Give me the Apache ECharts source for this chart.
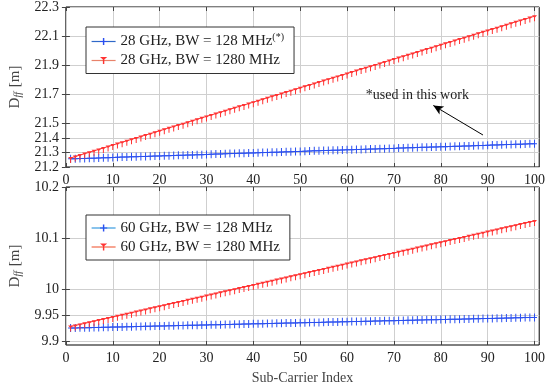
<!DOCTYPE html>
<html>
<head>
<meta charset="utf-8">
<script src="https://cdn.jsdelivr.net/npm/echarts@6/dist/echarts.min.js"></script>
<style>html,body{margin:0;padding:0;background:#fff}#c{width:548px;height:392px}</style>
</head>
<body>
<div id="c"></div>
<script>
// ---- data ----
const subIdx = [1,2,3,4,5,6,7,8,9,10,11,12,13,14,15,16,17,18,19,20,21,22,23,24,25,26,27,28,29,30,31,32,33,34,35,36,37,38,39,40,41,42,43,44,45,46,47,48,49,50,51,52,53,54,55,56,57,58,59,60,61,62,63,64,65,66,67,68,69,70,71,72,73,74,75,76,77,78,79,80,81,82,83,84,85,86,87,88,89,90,91,92,93,94,95,96,97,98,99,100];

const d28bw128 = [21.256,21.257,21.258,21.259,21.260,21.261,21.262,21.263,21.264,21.265,21.267,21.268,21.269,21.270,21.271,21.272,21.273,21.274,21.275,21.276,21.277,21.278,21.279,21.280,21.281,21.282,21.283,21.284,21.285,21.286,21.288,21.289,21.290,21.291,21.292,21.293,21.294,21.295,21.296,21.297,21.298,21.299,21.300,21.301,21.302,21.303,21.304,21.305,21.306,21.307,21.309,21.310,21.311,21.312,21.313,21.314,21.315,21.316,21.317,21.318,21.319,21.320,21.321,21.322,21.323,21.324,21.325,21.326,21.327,21.328,21.330,21.331,21.332,21.333,21.334,21.335,21.336,21.337,21.338,21.339,21.340,21.341,21.342,21.343,21.344,21.345,21.346,21.347,21.348,21.349,21.351,21.352,21.353,21.354,21.355,21.356,21.357,21.358,21.359,21.360];

const d28bw1280 = [21.262,21.272,21.282,21.292,21.301,21.311,21.321,21.331,21.341,21.351,21.361,21.370,21.380,21.390,21.400,21.410,21.420,21.429,21.439,21.449,21.459,21.469,21.479,21.489,21.498,21.508,21.518,21.528,21.538,21.548,21.558,21.567,21.577,21.587,21.597,21.607,21.617,21.626,21.636,21.646,21.656,21.666,21.676,21.686,21.695,21.705,21.715,21.725,21.735,21.745,21.755,21.764,21.774,21.784,21.794,21.804,21.814,21.823,21.833,21.843,21.853,21.863,21.873,21.883,21.892,21.902,21.912,21.922,21.932,21.942,21.952,21.961,21.971,21.981,21.991,22.001,22.011,22.020,22.030,22.040,22.050,22.060,22.070,22.080,22.089,22.099,22.109,22.119,22.129,22.139,22.149,22.158,22.168,22.178,22.188,22.198,22.208,22.217,22.227,22.237];

const d60bw128 = [9.9250,9.9252,9.9254,9.9256,9.9258,9.9261,9.9263,9.9265,9.9267,9.9269,9.9271,9.9273,9.9275,9.9277,9.9279,9.9282,9.9284,9.9286,9.9288,9.9290,9.9292,9.9294,9.9296,9.9298,9.9300,9.9303,9.9305,9.9307,9.9309,9.9311,9.9313,9.9315,9.9317,9.9319,9.9321,9.9324,9.9326,9.9328,9.9330,9.9332,9.9334,9.9336,9.9338,9.9340,9.9342,9.9345,9.9347,9.9349,9.9351,9.9353,9.9355,9.9357,9.9359,9.9361,9.9363,9.9366,9.9368,9.9370,9.9372,9.9374,9.9376,9.9378,9.9380,9.9382,9.9384,9.9387,9.9389,9.9391,9.9393,9.9395,9.9397,9.9399,9.9401,9.9403,9.9405,9.9408,9.9410,9.9412,9.9414,9.9416,9.9418,9.9420,9.9422,9.9424,9.9426,9.9429,9.9431,9.9433,9.9435,9.9437,9.9439,9.9441,9.9443,9.9445,9.9447,9.9450,9.9452,9.9454,9.9456,9.9458];

const d60bw1280 = [9.9280,9.9301,9.9322,9.9342,9.9363,9.9384,9.9405,9.9426,9.9446,9.9467,9.9488,9.9509,9.9530,9.9550,9.9571,9.9592,9.9613,9.9634,9.9654,9.9675,9.9696,9.9717,9.9738,9.9758,9.9779,9.9800,9.9821,9.9842,9.9862,9.9883,9.9904,9.9925,9.9946,9.9966,9.9987,10.0008,10.0029,10.0050,10.0070,10.0091,10.0112,10.0133,10.0154,10.0174,10.0195,10.0216,10.0237,10.0258,10.0278,10.0299,10.0320,10.0341,10.0362,10.0382,10.0403,10.0424,10.0445,10.0466,10.0486,10.0507,10.0528,10.0549,10.0570,10.0590,10.0611,10.0632,10.0653,10.0674,10.0694,10.0715,10.0736,10.0757,10.0778,10.0798,10.0819,10.0840,10.0861,10.0882,10.0902,10.0923,10.0944,10.0965,10.0986,10.1006,10.1027,10.1048,10.1069,10.1090,10.1110,10.1131,10.1152,10.1173,10.1194,10.1214,10.1235,10.1256,10.1277,10.1298,10.1318,10.1339];

const seriesNames = ['28 GHz, BW = 128 MHz(*)', '28 GHz, BW = 1280 MHz', '60 GHz, BW = 128 MHz', '60 GHz, BW = 1280 MHz'];
const xTicks = [0,10,20,30,40,50,60,70,80,90,100];
const topYTicks = [21.2,21.3,21.4,21.5,21.7,21.9,22.1,22.3];
const botYTicks = [9.9,9.95,10,10.1,10.2];
const xAxisTitle = 'Sub-Carrier Index';
const annotationText = '*used in this work';

// ---- chart ----
const FONT = 'Liberation Serif';
const plusPath = 'path://M2,0 H3 V3.5 H5 V4.5 H3 V8 H2 V4.5 H0 V3.5 H2 Z';
const triPath = 'path://M0,0 H6 L3.6,2.6 V7 H2.4 V2.6 Z';

function pairs(ys){ return subIdx.map((x,i)=>[x, ys[i]]); }

function xAx(grid, pos, show){
  return {
    type:'value', gridIndex:grid, position:pos, min:0, max:101,
    axisLine:{show:false},
    axisTick:{show:true, inside:true, length:4, customValues:xTicks, lineStyle:{color:'#444'}},
    axisLabel:{show:show, customValues:xTicks, margin:6, color:'#222', fontFamily:FONT, fontSize:14},
    splitLine:{show:pos==='bottom', lineStyle:{color:'#cfcfcf', width:1}}
  };
}
function yAx(grid, pos, min, max, ticks, withName){
  const o = {
    type:'value', gridIndex:grid, position:pos, min:min, max:max,
    axisLine:{show:false},
    axisTick:{show:true, inside:true, length:4, customValues:ticks, lineStyle:{color:'#444'}},
    axisLabel:{show:pos==='left', customValues:ticks, margin:7, color:'#222', fontFamily:FONT, fontSize:14},
    splitLine:{show:pos==='left', lineStyle:{color:'#cfcfcf', width:1}}
  };
  if (withName) {
    o.name = 'D{s|f\u200Cf} [m]';
    o.nameLocation = 'middle';
    o.nameGap = 42;
    o.nameTextStyle = {fontFamily:FONT, fontSize:15, color:'#444',
      rich:{s:{fontFamily:FONT, fontSize:10, fontStyle:'italic', color:'#444', padding:[6,1,0,0]}}};
  }
  return o;
}

const chart = echarts.init(document.getElementById('c'), null, {renderer:'canvas'});

const botX = xAx(1,'bottom',true);
botX.name = xAxisTitle;
botX.nameLocation = 'middle';
botX.nameGap = 26;
botX.nameTextStyle = {fontFamily:FONT, fontSize:14, color:'#444'};

function legendCfg(top, names, lineColors, symColors){
  return {
    orient:'vertical', left:86, top:top,
    data: names.map((n,i)=>({name:n, lineStyle:{color:lineColors[i], width:1.2}, itemStyle:{color:symColors[i]}})),
    backgroundColor:'#fff', borderColor:'#333', borderWidth:1, borderRadius:0,
    padding:[5,10,5,5], itemWidth:24, itemHeight:9, itemGap:3,
    textStyle:{fontFamily:FONT, fontSize:15, color:'#222', lineHeight:16,
      rich:{sup:{fontFamily:FONT, fontSize:10, color:'#222', padding:[0,0,9,0]}}},
    formatter: n => n.replace('(*)','{sup|(*)}'),
    selectedMode:false
  };
}

function line(name, ys, color, sym, size, off, xi, yi, extra){
  return Object.assign({
    name:name, type:'line', xAxisIndex:xi, yAxisIndex:yi, data:pairs(ys),
    symbol:sym, symbolSize:size, symbolOffset:off, showSymbol:true, showAllSymbol:true,
    itemStyle:{color:color}, lineStyle:{color:color, width:1},
    animation:false, silent:true
  }, extra||{});
}

chart.setOption({
  backgroundColor:'#fff',
  animation:false,
  grid:[
    {left:64, right:7, top:7, height:160, show:true, borderColor:'#000', borderWidth:1, backgroundColor:'transparent'},
    {left:64, right:7, top:187, height:158, show:true, borderColor:'#000', borderWidth:1, backgroundColor:'transparent'}
  ],
  xAxis:[ xAx(0,'bottom',true), xAx(0,'top',false), botX, xAx(1,'top',false) ],
  yAxis:[
    yAx(0,'left',21.2,22.3,topYTicks,true), yAx(0,'right',21.2,22.3,topYTicks,false),
    yAx(1,'left',9.892,10.2,botYTicks,true), yAx(1,'right',9.892,10.2,botYTicks,false)
  ],
  legend:[
    legendCfg(27, [seriesNames[0], seriesNames[1]], ['#2f68c8','#e8826a'], ['#2a4ff0','#ff3333']),
    legendCfg(215, [seriesNames[2], seriesNames[3]], ['#3a9be0','#f26a4a'], ['#2a4ff0','#ff3333'])
  ],
  series:[
    line(seriesNames[0], d28bw128, '#2a4ff0', plusPath, [5,8], [0,0], 0, 0, {
      markLine:{silent:true, symbol:['none','arrow'], symbolSize:[7,10],
        lineStyle:{color:'#000', width:1, type:'solid'}, label:{show:false},
        data:[[{coord:[89,21.42]},{coord:[78.4,21.623]}]]},
      markPoint:{silent:true, symbol:'circle', symbolSize:0,
        label:{show:true, position:'inside', formatter:annotationText, fontFamily:FONT, fontSize:14, color:'#222'},
        data:[{coord:[75,21.693]}]}
    }),
    line(seriesNames[1], d28bw1280, '#ff3333', triPath, [5,6], [0,2], 0, 0),
    line(seriesNames[2], d60bw128, '#2a4ff0', plusPath, [5,8], [0,0], 2, 2),
    line(seriesNames[3], d60bw1280, '#ff3333', triPath, [5,6], [0,2], 2, 2)
  ]
});
</script>
</body>
</html>
